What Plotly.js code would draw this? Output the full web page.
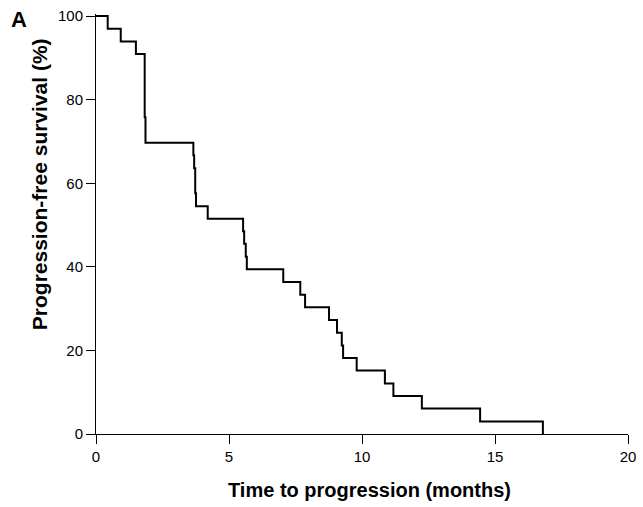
<!DOCTYPE html>
<html>
<head>
<meta charset="utf-8">
<script src="https://cdn.plot.ly/plotly-3.0.1.min.js"></script>
<style>html,body{margin:0;padding:0;background:#fff;}#chart{width:643px;height:507px;}</style>
</head>
<body>
<div id="chart"></div>
<script>
// Kaplan-Meier step data
var months = [0, 0.44, 0.93, 1.50, 1.83, 1.86, 3.66, 3.69, 3.73, 3.76, 4.20, 5.53, 5.57, 5.63, 5.67, 7.04, 7.68, 7.86, 8.76, 9.06, 9.24, 9.29, 9.80, 10.86, 11.18, 12.25, 14.44, 16.80];
var survival = [100, 97.0, 93.9, 90.9, 75.8, 69.7, 66.7, 63.6, 57.6, 54.5, 51.5, 48.5, 45.5, 42.4, 39.4, 36.4, 33.3, 30.3, 27.3, 24.2, 21.2, 18.2, 15.2, 12.1, 9.1, 6.1, 3.0, 0];
var xTicks = [0, 5, 10, 15, 20];
var yTicks = [0, 20, 40, 60, 80, 100];
var xTitle = 'Time to progression (months)';
var yTitle = 'Progression-free survival (%)';
var panelLabel = 'A';

var font = 'Liberation Sans, Arial, sans-serif';

var trace = {
  x: months,
  y: survival,
  type: 'scatter',
  mode: 'lines',
  line: {shape: 'hv', color: '#000', width: 2},
  hoverinfo: 'skip'
};

var axisCommon = {
  showline: true, linecolor: '#000', linewidth: 1,
  ticks: 'outside', ticklen: 9, tickwidth: 1, tickcolor: '#000',
  showgrid: false, zeroline: false,
  tickfont: {family: font, size: 15, color: '#000'},
  tickmode: 'array'
};

var layout = {
  width: 643, height: 507,
  margin: {l: 96, r: 15, t: 14, b: 73},
  paper_bgcolor: '#fff', plot_bgcolor: '#fff',
  showlegend: false,
  xaxis: Object.assign({}, axisCommon, {range: [0, 20], tickvals: xTicks, ticktext: xTicks.map(String)}),
  yaxis: Object.assign({}, axisCommon, {range: [0, 100.5], tickvals: yTicks, ticktext: yTicks.map(String)}),
  annotations: [
    {text: '<b>' + xTitle + '</b>', xref: 'paper', yref: 'paper', x: 0.5141, y: -0.1333,
     xanchor: 'center', yanchor: 'middle', showarrow: false, font: {family: font, size: 20, color: '#000'}},
    {text: '<b>' + yTitle + '</b>', xref: 'paper', yref: 'paper', x: -0.107, y: 0.595, textangle: -90,
     xanchor: 'center', yanchor: 'middle', showarrow: false, font: {family: font, size: 21, color: '#000'}},
    {text: '<b>' + panelLabel + '</b>', xref: 'paper', yref: 'paper', x: -0.1447, y: 0.986,
     xanchor: 'center', yanchor: 'middle', showarrow: false, font: {family: font, size: 22, color: '#000'}}
  ]
};

Plotly.newPlot('chart', [trace], layout, {displayModeBar: false, staticPlot: true});
</script>
</body>
</html>
